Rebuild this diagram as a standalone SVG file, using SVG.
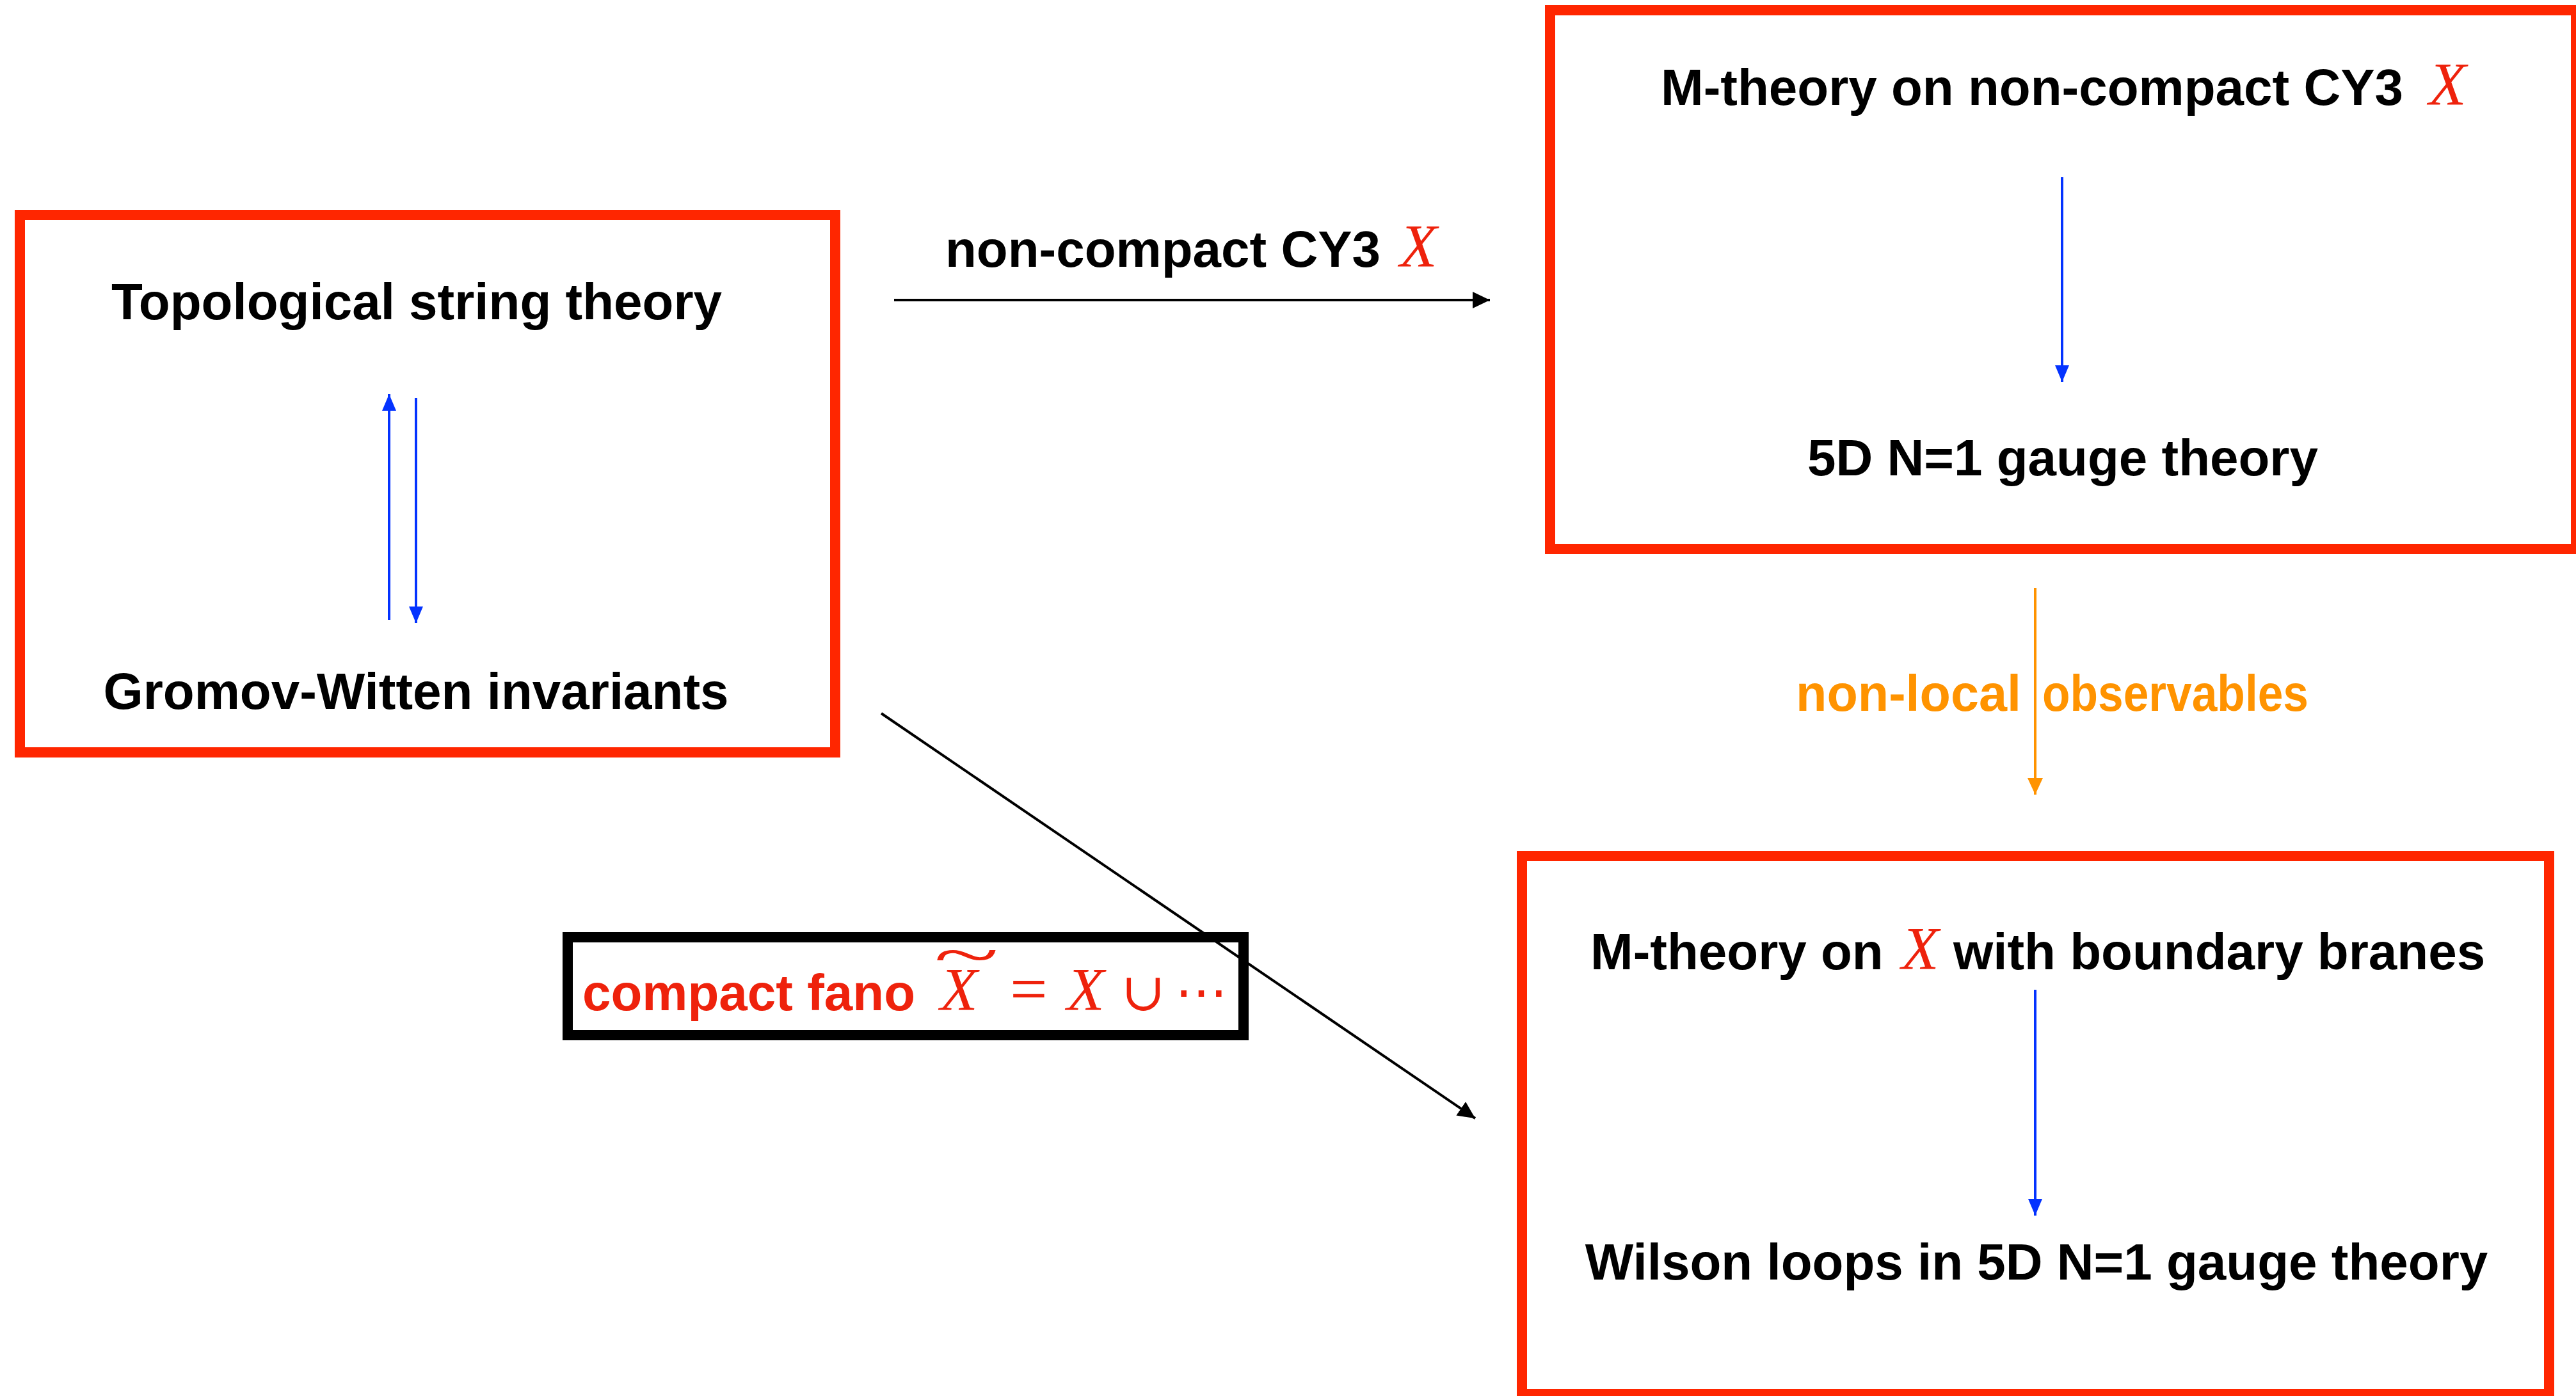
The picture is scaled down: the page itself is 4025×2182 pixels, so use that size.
<svg xmlns="http://www.w3.org/2000/svg" width="4025" height="2182" viewBox="0 0 4025 2182">
  <style>
    .box-red { fill: none; stroke: #FF2600; stroke-width: 16; }
    .box-black { fill: none; stroke: #000000; stroke-width: 16; }
    .t { font-family: "Liberation Sans", Arial, sans-serif; font-weight: bold; font-size: 80px; fill: #000000; }
    .tr { fill: #EE220C; }
    .to { fill: #FF9300; }
    .m { font-family: "Liberation Serif", "DejaVu Serif", serif; font-style: italic; font-size: 96px; fill: #EE220C; }
    .mr { font-family: "Liberation Serif", "DejaVu Serif", serif; font-style: normal; fill: #EE220C; }
    .c-black { stroke: #000000; stroke-width: 4; fill: none; }
    .c-blue { stroke: #0433FF; stroke-width: 4; fill: none; }
    .c-orange { stroke: #FF9300; stroke-width: 4; fill: none; }
  </style>
  <defs>
    <marker id="ah-black" markerUnits="userSpaceOnUse" markerWidth="28" markerHeight="28" refX="27" refY="13" orient="auto">
      <path d="M0,0 L27,13 L0,26 z" fill="#000000"/>
    </marker>
    <marker id="ah-blue" markerUnits="userSpaceOnUse" markerWidth="28" markerHeight="24" refX="26" refY="11" orient="auto">
      <path d="M0,0 L26,11 L0,22 z" fill="#0433FF"/>
    </marker>
    <marker id="ah-orange" markerUnits="userSpaceOnUse" markerWidth="28" markerHeight="26" refX="26" refY="12" orient="auto">
      <path d="M0,0 L26,12 L0,24 z" fill="#FF9300"/>
    </marker>
  </defs>
  <rect width="4025" height="2182" fill="#FFFFFF"/>

  <g id="node-topological">
    <rect class="box-red" x="31" y="336" width="1274" height="840"/>
    <text class="t" x="651" y="499" text-anchor="middle">Topological string theory</text>
    <text class="t" x="650" y="1108" text-anchor="middle">Gromov-Witten invariants</text>
  </g>

  <g id="node-mtheory-noncompact">
    <rect class="box-red" x="2422" y="16" width="1603" height="842"/>
    <text class="t" x="2595" y="164" font-size="81">M-theory on non-compact CY3</text>
    <text class="m" x="3795" y="164">X</text>
    <text class="t" x="3223" y="743" text-anchor="middle">5D N=1 gauge theory</text>
  </g>

  <g id="node-mtheory-boundary">
    <rect class="box-red" x="2378" y="1338" width="1605" height="841"/>
    <text class="t" x="2485" y="1515">M-theory on</text>
    <text class="m" x="2971" y="1515">X</text>
    <text class="t" x="3052" y="1515">with boundary branes</text>
    <text class="t" x="3182" y="2000" text-anchor="middle">Wilson loops in 5D N=1 gauge theory</text>
  </g>

  <g id="node-compact-fano">
    <rect class="box-black" x="887" y="1465" width="1056" height="153" fill="#FFFFFF"/>
    <text class="t tr" x="910" y="1579">compact fano</text>
    <text class="m" x="1469" y="1579">X<tspan class="mr" x="1459" y="1524" font-size="96" textLength="102" lengthAdjust="spacingAndGlyphs">~</tspan></text>
    <text class="mr" x="1578" y="1581" font-size="104">=</text>
    <text class="m" x="1667" y="1579">X</text>
    <text class="mr" x="1752" y="1579" font-size="82">∪</text>
    <text class="mr" x="1836" y="1579" font-size="82">⋯</text>
  </g>

  <g id="connectors">
    <line class="c-black" x1="1397" y1="469" x2="2328" y2="469" marker-end="url(#ah-black)"/>
    <g id="label-noncompact">
      <text class="t" x="1477" y="417">non-compact CY3</text>
      <text class="m" x="2187" y="417">X</text>
    </g>
    <line class="c-black" x1="1377" y1="1115" x2="2305" y2="1748" marker-end="url(#ah-black)"/>
    <line class="c-blue" x1="608" y1="969" x2="608" y2="616" marker-end="url(#ah-blue)"/>
    <line class="c-blue" x1="650" y1="622" x2="650" y2="974" marker-end="url(#ah-blue)"/>
    <line class="c-blue" x1="3222" y1="277" x2="3222" y2="597" marker-end="url(#ah-blue)"/>
    <line class="c-blue" x1="3180" y1="1547" x2="3180" y2="1900" marker-end="url(#ah-blue)"/>
    <line class="c-orange" x1="3180" y1="919" x2="3180" y2="1242" marker-end="url(#ah-orange)"/>
    <text class="t to" y="1111"><tspan x="2806" textLength="352" lengthAdjust="spacingAndGlyphs">non-local</tspan><tspan x="3191" textLength="416" lengthAdjust="spacingAndGlyphs">observables</tspan></text>
  </g>
</svg>
